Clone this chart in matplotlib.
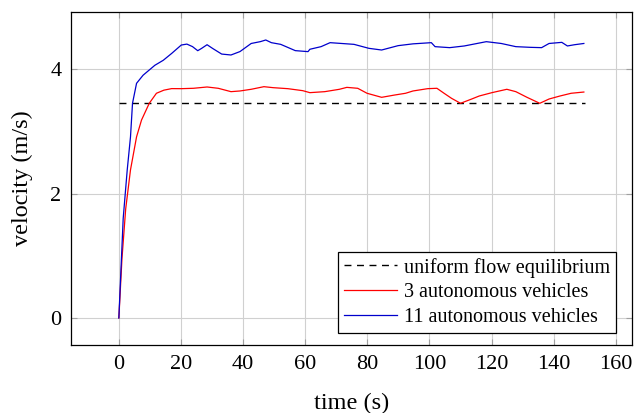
import numpy as np
from matplotlib import pyplot as plt

# values
t_eq = [0, 150]
v_eq = [3.45, 3.45]

t_red = [0, 1.0, 2.2, 3.75, 5.7, 7.3, 9.8, 12.1, 14.5, 17, 20.1, 24, 28.4, 32, 36.1, 39,
         42.6, 46.7, 49.7, 54.4, 59.2, 61.5, 66.3, 71, 73.4, 76.9, 79.9, 84.6, 88.8, 92.3,
         94.7, 99.4, 102.4, 104.7, 107.1, 110, 113.6, 116, 120.1, 124.9, 127.8, 131.4,
         135.5, 138.5, 142, 145.6, 149.7]
v_red = [0, 0.95, 1.75, 2.38, 2.91, 3.18, 3.45, 3.61, 3.66, 3.685, 3.684, 3.69, 3.711, 3.69,
         3.636, 3.647, 3.674, 3.716, 3.70, 3.684, 3.652, 3.62, 3.636, 3.674, 3.705, 3.69,
         3.61, 3.545, 3.582, 3.61, 3.647, 3.684, 3.69, 3.61, 3.529, 3.449, 3.518, 3.566,
         3.62, 3.674, 3.636, 3.545, 3.449, 3.518, 3.566, 3.61, 3.63]

t_blue = [0, 1.4, 2.7, 3.75, 4.4, 5.7, 7.8, 11.6, 14.3, 17, 20.1, 21.9, 23.7, 25.4, 26.6,
          28.4, 30.2, 33.1, 36.1, 39, 42.6, 45.6, 47.3, 49.1, 52.1, 56.8, 60.9, 61.5, 65.1,
          68, 75.7, 80.5, 84.6, 89.9, 94.7, 100.6, 101.8, 106.5, 111.2, 118.3, 123.1,
          127.8, 132.5, 136.1, 138.5, 142.6, 144.4, 146.7, 149.7]
v_blue = [0, 1.6, 2.38, 2.91, 3.45, 3.77, 3.90, 4.06, 4.14, 4.25, 4.385, 4.40, 4.36,
          4.294, 4.33, 4.39, 4.33, 4.24, 4.225, 4.28, 4.41, 4.44, 4.466, 4.423, 4.396,
          4.295, 4.279, 4.317, 4.359, 4.423, 4.396, 4.332, 4.305, 4.375, 4.404, 4.423,
          4.359, 4.343, 4.37, 4.439, 4.41, 4.359, 4.348, 4.343, 4.41, 4.428, 4.37, 4.39,
          4.41]

x_ticks = [0, 20, 40, 60, 80, 100, 120, 140, 160]
y_ticks = [0, 2, 4]

plt.rcParams['font.family'] = ['Liberation Serif', 'DejaVu Serif']

fig = plt.figure(figsize=(6.38, 4.13), dpi=100)
ax = fig.add_axes([0.1113, 0.1646, 0.8793, 0.8064])

ax.plot(t_eq, v_eq, color='black', lw=1.0, dashes=(5, 4), label='uniform flow equilibrium')
ax.plot(t_red, v_red, color='red', lw=0.9, label='3 autonomous vehicles')
ax.plot(t_blue, v_blue, color='#0000cc', lw=0.9, label='11 autonomous vehicles')

ax.set_xlim(-15.4, 165.2)
ax.set_ylim(-0.434, 4.916)
ax.set_xticks(x_ticks)
ax.set_yticks(y_ticks)
ax.grid(True, color='#d0d0d0', lw=0.8)
ax.set_axisbelow(True)
ax.tick_params(direction='in', top=True, right=True, length=4, color='#a0a0a0',
               labelsize=16, pad=7)
for s in ax.spines.values():
    s.set_linewidth(0.9)

ax.set_xlabel('time (s)', fontsize=17.5, labelpad=14)
ax.set_ylabel('velocity (m/s)', fontsize=17.5, labelpad=12)

leg = ax.legend(loc='lower right', bbox_to_anchor=(0.9715, 0.036), borderaxespad=0,
                fontsize=14.5, frameon=True, fancybox=False,
                edgecolor='black', framealpha=1, handlelength=2.6, borderpad=0.3,
                labelspacing=0.28, handletextpad=0.35)
leg.get_frame().set_linewidth(0.9)

fig.savefig('out.png', dpi=100)
